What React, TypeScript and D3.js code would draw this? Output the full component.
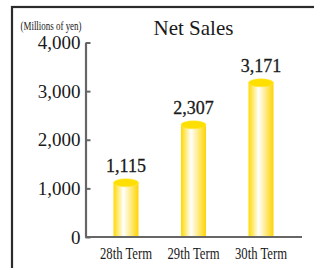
import React, { useEffect, useRef } from 'react';
import * as d3 from 'd3';

// chart data
const terms = ['28th Term', '29th Term', '30th Term'];
const netSales = [1115, 2307, 3171];
const yTicks = [0, 1000, 2000, 3000, 4000];

const W = 314;
const H = 268;

const App = () => {
  const svgRef = useRef<SVGSVGElement | null>(null);

  useEffect(() => {
    const svg = d3.select(svgRef.current);
    svg.selectAll('*').remove();

    const serif = '"Liberation Serif", "DejaVu Serif", serif';
    const axisColor = '#666';
    const ink = '#1a1a1a';

    const defs = svg.append('defs');
    const grad = defs.append('linearGradient')
      .attr('id', 'cyl')
      .attr('x1', '0%').attr('x2', '100%')
      .attr('y1', '0%').attr('y2', '0%');
    grad.append('stop').attr('offset', '0%').attr('stop-color', '#ffd900');
    grad.append('stop').attr('offset', '40%').attr('stop-color', '#ffffff');
    grad.append('stop').attr('offset', '100%').attr('stop-color', '#ffd400');

    // frame (only top and left edges visible)
    svg.append('rect')
      .attr('x', 12).attr('y', 7)
      .attr('width', 400).attr('height', 400)
      .attr('fill', 'none')
      .attr('stroke', '#2b2b2b')
      .attr('stroke-width', 2.2);

    const y = d3.scaleLinear().domain([0, 4000]).range([237, 42.5]);
    const x = d3.scalePoint<string>().domain(terms).range([126, 261]);
    const axisX = 85.5;
    const barW = 25;

    // y axis
    const yAxis = svg.append('g')
      .attr('transform', `translate(${axisX},0)`)
      .call(d3.axisLeft(y)
        .tickValues(yTicks)
        .tickSizeInner(-5)
        .tickSizeOuter(0)
        .tickPadding(5)
        .tickFormat(d3.format(',')));
    yAxis.select('.domain').attr('stroke', axisColor).attr('stroke-width', 2.2);
    yAxis.selectAll('.tick line').attr('stroke', axisColor).attr('stroke-width', 2);
    yAxis.selectAll('.tick text')
      .attr('fill', ink)
      .style('font-family', serif)
      .style('font-size', '19px');

    // x axis baseline
    svg.append('line')
      .attr('x1', axisX).attr('x2', 302)
      .attr('y1', y(0)).attr('y2', y(0))
      .attr('stroke', axisColor)
      .attr('stroke-width', 2.2);

    // cylinders
    const bars = svg.append('g');
    terms.forEach((t, i) => {
      const cx = x(t) as number;
      const top = y(netSales[i]);
      bars.append('rect')
        .attr('x', cx - barW / 2)
        .attr('y', top)
        .attr('width', barW)
        .attr('height', y(0) - top - 1)
        .attr('fill', 'url(#cyl)');
      bars.append('ellipse')
        .attr('cx', cx).attr('cy', top)
        .attr('rx', barW / 2).attr('ry', 4)
        .attr('fill', '#ffdf00')
        .attr('stroke', '#ffe94a')
        .attr('stroke-width', 0.6);
      bars.append('text')
        .attr('x', cx)
        .attr('y', top - 11)
        .attr('text-anchor', 'middle')
        .style('font-family', serif)
        .style('font-size', '18px')
        .attr('fill', ink)
        .attr('stroke', ink)
        .attr('stroke-width', 0.3)
        .text(d3.format(',')(netSales[i]));
      bars.append('text')
        .attr('x', cx)
        .attr('y', 259)
        .attr('text-anchor', 'middle')
        .attr('textLength', 52)
        .attr('lengthAdjust', 'spacingAndGlyphs')
        .style('font-family', serif)
        .style('font-size', '17px')
        .attr('fill', ink)
        .text(t);
    });

    // title and unit
    svg.append('text')
      .attr('x', 193.5).attr('y', 35)
      .attr('text-anchor', 'middle')
      .style('font-family', serif)
      .style('font-size', '21px')
      .attr('fill', ink)
      .text('Net Sales');

    svg.append('text')
      .attr('x', 20.5).attr('y', 30)
      .attr('textLength', 61)
      .attr('lengthAdjust', 'spacingAndGlyphs')
      .style('font-family', serif)
      .style('font-size', '12px')
      .attr('fill', ink)
      .text('(Millions of yen)');
  }, []);

  return (
    <svg
      ref={svgRef}
      width={W}
      height={H}
      style={{ position: 'fixed', left: 0, top: 0, display: 'block', background: '#fff' }}
    ></svg>
  );
};

export default App;
